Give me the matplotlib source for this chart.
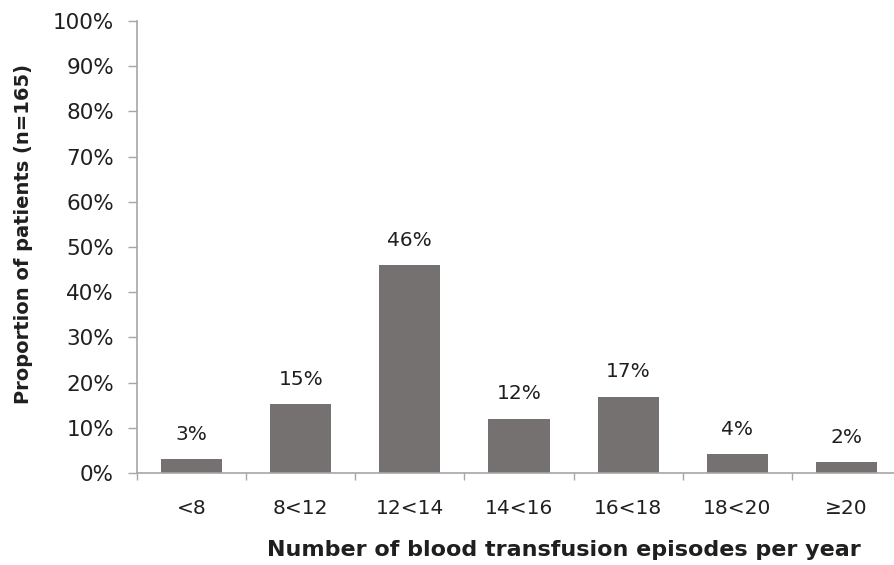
import matplotlib
matplotlib.use("Agg")
import matplotlib.pyplot as plt
import numpy as np
from matplotlib.ticker import FixedLocator, PercentFormatter

categories = ["<8", "8<12", "12<14", "14<16", "16<18", "18<20", "≥20"]
proportions = [3.0, 15.2, 46.0, 12.0, 16.9, 4.1, 2.4]
y_ticks = list(range(0, 101, 10))

plt.rcParams["font.family"] = ["DejaVu Sans"]
text_color = "#1f1f1f"
axis_color = "#a6a6a6"
bar_color = "#767171"

fig = plt.figure(figsize=(8.94, 5.65), dpi=100)
left_px, right_px, bottom_px, top_px = 137, 901, 473, 21
ax = fig.add_axes([left_px / 894, 1 - bottom_px / 565,
                   (right_px - left_px) / 894, (bottom_px - top_px) / 565])

x = np.arange(len(categories))
ax.bar(x, proportions, width=0.56, color=bar_color, zorder=2)

for xi, v in zip(x, proportions):
    ax.annotate(f"{round(v)}%", (xi, v), xytext=(0, 11), textcoords="offset points",
                ha="center", va="bottom", fontsize=14.5, color=text_color)

ax.set_xlim(-0.5, len(categories) - 0.5)
ax.set_ylim(0, 100)
ax.set_yticks(y_ticks)
ax.yaxis.set_major_formatter(PercentFormatter(decimals=0))
ax.set_xticks(x)
ax.set_xticklabels(categories)
ax.xaxis.set_minor_locator(FixedLocator(np.arange(-0.5, len(categories), 1.0)))

ax.tick_params(axis="x", which="major", length=0, pad=19, labelsize=14.5, labelcolor=text_color)
ax.tick_params(axis="x", which="minor", length=5, width=1, color=axis_color, direction="out")
ax.tick_params(axis="y", length=6.5, width=1, color=axis_color, direction="out",
               pad=10, labelsize=15.5, labelcolor=text_color)

for side in ("top", "right"):
    ax.spines[side].set_visible(False)
for side in ("left", "bottom"):
    ax.spines[side].set_color(axis_color)
    ax.spines[side].set_linewidth(1.2)

ax.set_xlabel("Number of blood transfusion episodes per year", fontsize=16,
              fontweight="bold", color=text_color)
ax.xaxis.set_label_coords(0.559, -0.148)
ax.set_ylabel("Proportion of patients (n=165)", fontsize=14, fontweight="bold",
              color=text_color)
ax.yaxis.set_label_coords(-0.136, 0.529)

fig.savefig("out.png", dpi=100, facecolor="white")
